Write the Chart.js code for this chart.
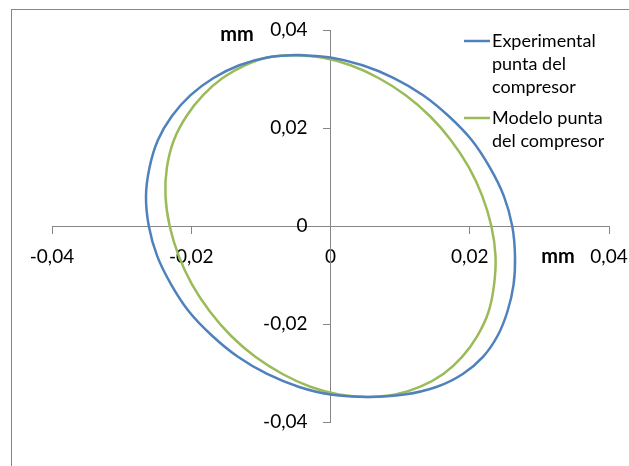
<!DOCTYPE html>
<html>
<head>
<meta charset="utf-8">
<script src="https://cdn.jsdelivr.net/npm/chart.js@4.4.1/dist/chart.umd.min.js"></script>
<style>
  html, body { margin: 0; padding: 0; background: #fff; }
  #wrap { position: relative; width: 629px; height: 466px; }
</style>
</head>
<body>
<div id="wrap"><canvas id="grafico" width="629" height="466"></canvas></div>
<script>
// Curva experimental (punta del compresor)
const expX = [-0.0046, -0.0091, -0.0131, -0.0168, -0.0201, -0.0228, -0.0248, -0.0260, -0.0265, -0.0261, -0.0249, -0.0229, -0.0203, -0.0170, -0.0133, -0.0091, -0.0046, 0, 0.0054, 0.0106, 0.0153, 0.0190, 0.0219, 0.0240, 0.0254, 0.0263, 0.0265, 0.0261, 0.0249, 0.0229, 0.0203, 0.0170, 0.0133, 0.0091, 0.0046, 0, -0.0046];
const expY = [0.0349, 0.0344, 0.0328, 0.0302, 0.0267, 0.0224, 0.0175, 0.0119, 0.0061, 0, -0.0061, -0.0119, -0.0175, -0.0224, -0.0267, -0.0302, -0.0328, -0.0344, -0.0349, -0.0344, -0.0328, -0.0302, -0.0267, -0.0224, -0.0175, -0.0119, -0.0061, 0, 0.0061, 0.0119, 0.0175, 0.0224, 0.0267, 0.0302, 0.0328, 0.0344, 0.0349];

// Curva del modelo
const modX = [-0.0053, -0.0090, -0.0123, -0.0155, -0.0183, -0.0207, -0.0225, -0.0235, -0.0237, -0.0231, -0.0218, -0.0199, -0.0173, -0.0143, -0.0108, -0.0069, -0.0029, 0.0012, 0.0053, 0.0093, 0.0129, 0.0162, 0.0189, 0.0211, 0.0227, 0.0235, 0.0237, 0.0231, 0.0218, 0.0199, 0.0173, 0.0143, 0.0108, 0.0069, 0.0029, -0.0012, -0.0053];
const modY = [0.0349, 0.0344, 0.0328, 0.0302, 0.0267, 0.0224, 0.0175, 0.0119, 0.0061, 0, -0.0061, -0.0119, -0.0175, -0.0224, -0.0267, -0.0302, -0.0328, -0.0344, -0.0349, -0.0344, -0.0328, -0.0302, -0.0267, -0.0224, -0.0175, -0.0119, -0.0061, 0, 0.0061, 0.0119, 0.0175, 0.0224, 0.0267, 0.0302, 0.0328, 0.0344, 0.0349];

const expLabel = ['Experimental', 'punta del', 'compresor'];
const modLabel = ['Modelo punta', 'del compresor'];
const ejeMin = -0.04;
const ejeMax = 0.04;
const paso = 0.02;

const fuente = 'Lato, "Open Sans", sans-serif';
const azul = '#4F81BD';
const verde = '#9BBB59';
const gris = '#868686';

function puntos(xs, ys) {
    return xs.map((x, i) => ({ x: x, y: ys[i] }));
}

function formato(v) {
    if (Math.abs(v) < 1e-9) return '0';
    return v.toFixed(2).replace('.', ',');
}

// marco, etiquetas del eje y, textos "mm" y leyenda de varias lineas
const extras = {
    id: 'extras',
    beforeDraw(chart) {
        const ctx = chart.ctx;
        ctx.save();
        ctx.strokeStyle = gris;
        ctx.lineWidth = 1;
        ctx.strokeRect(11.5, 9.5, 800, 600);
        ctx.restore();
    },
    afterDraw(chart) {
        const ctx = chart.ctx;
        const sx = chart.scales.x;
        const sy = chart.scales.y;
        const x0 = sx.getPixelForValue(0);
        ctx.save();
        ctx.fillStyle = '#000';

        // etiquetas del eje y, a la izquierda del eje
        ctx.font = '19px ' + fuente;
        ctx.textAlign = 'right';
        ctx.textBaseline = 'middle';
        sy.ticks.forEach(t => {
            ctx.fillText(formato(t.value), x0 - 23, sy.getPixelForValue(t.value));
        });

        ctx.font = 'bold 20px ' + fuente;
        ctx.textAlign = 'center';
        ctx.fillText('mm', 237, sy.getPixelForValue(ejeMax) + 5);
        ctx.fillText('mm', 558, sy.getPixelForValue(0) + 31);

        // leyenda
        ctx.font = '18px ' + fuente;
        ctx.textAlign = 'left';
        const series = [
            { lineas: expLabel, color: azul, y0: 41 },
            { lineas: modLabel, color: verde, y0: 118 }
        ];
        series.forEach(s => {
            ctx.strokeStyle = s.color;
            ctx.lineWidth = 2.5;
            ctx.beginPath();
            ctx.moveTo(464, s.y0);
            ctx.lineTo(490, s.y0);
            ctx.stroke();
            s.lineas.forEach((t, i) => {
                ctx.fillText(t, 492, s.y0 + i * 23);
            });
        });
        ctx.restore();
    }
};

const ctx = document.getElementById('grafico').getContext('2d');
new Chart(ctx, {
    type: 'scatter',
    data: {
        datasets: [
            {
                label: expLabel.join(' '),
                data: puntos(expX, expY),
                showLine: true,
                borderColor: azul,
                backgroundColor: azul,
                borderWidth: 2.5,
                pointRadius: 0,
                tension: 0.4
            },
            {
                label: modLabel.join(' '),
                data: puntos(modX, modY),
                showLine: true,
                borderColor: verde,
                backgroundColor: verde,
                borderWidth: 2.5,
                pointRadius: 0,
                tension: 0.4
            }
        ]
    },
    options: {
        responsive: false,
        animation: false,
        layout: { padding: { left: 52, right: 20, top: 30, bottom: 44 } },
        plugins: {
            legend: { display: false },
            tooltip: { enabled: false }
        },
        scales: {
            x: {
                type: 'linear',
                position: { y: 0 },
                min: ejeMin,
                max: ejeMax,
                // que las etiquetas de los extremos no encojan el area
                afterFit: s => { s.paddingLeft = 0; s.paddingRight = 0; },
                grid: { display: true, drawOnChartArea: false, drawTicks: true, tickLength: 7, color: gris },
                border: { display: true, color: gris },
                ticks: {
                    stepSize: paso,
                    padding: 12,
                    color: '#000',
                    font: { family: fuente, size: 19 },
                    callback: v => formato(v)
                }
            },
            y: {
                type: 'linear',
                position: { x: 0 },
                min: ejeMin,
                max: ejeMax,
                afterFit: s => { s.paddingTop = 0; s.paddingBottom = 0; },
                grid: { display: true, drawOnChartArea: false, drawTicks: true, tickLength: 7, color: gris },
                border: { display: true, color: gris },
                ticks: {
                    display: false,
                    stepSize: paso
                }
            }
        }
    },
    plugins: [extras]
});
</script>
</body>
</html>
